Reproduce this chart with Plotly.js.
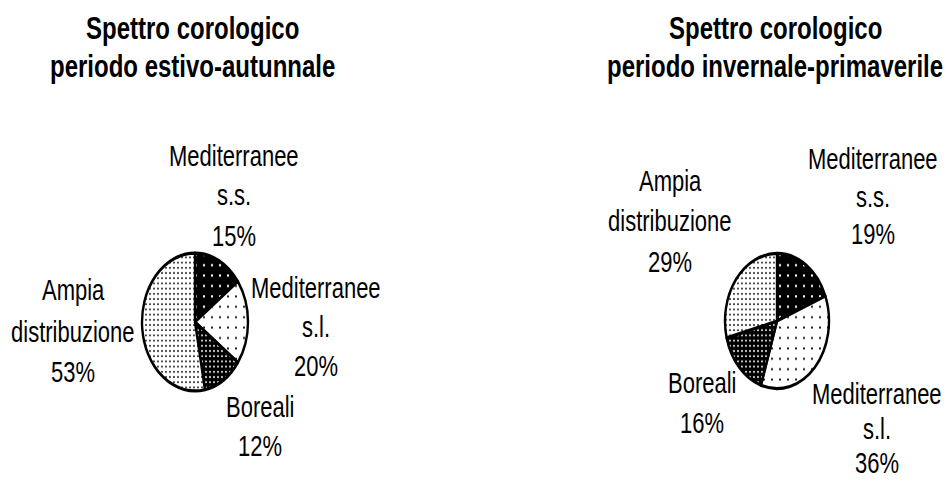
<!DOCTYPE html>
<html>
<head>
<meta charset="utf-8">
<script src="https://cdn.plot.ly/plotly-3.0.1.min.js"></script>
<style>
  html, body { margin: 0; padding: 0; background: #ffffff; width: 946px; height: 481px; }
  #wrap { position: relative; width: 946px; height: 481px; overflow: hidden; }
  #plot { position: absolute; left: 0; top: 0; width: 946px; height: 370px; transform: scaleY(1.3); transform-origin: 0 0; }
</style>
</head>
<body>
<div id="wrap"><div id="plot"></div></div>
<script>
// ---- data ----
const categories = ['Mediterranee s.s.', 'Mediterranee s.l.', 'Boreali', 'Ampia distribuzione'];
const labelLines = [['Mediterranee', 's.s.'], ['Mediterranee', 's.l.'], ['Boreali'], ['Ampia', 'distribuzione']];
const summerValues = [15, 20, 12, 53];
const winterValues = [19, 36, 16, 29];
const summerTitle = ['Spettro corologico', 'periodo estivo-autunnale'];
const winterTitle = ['Spettro corologico', 'periodo invernale-primaverile'];

// ---- layout config (positions in final picture pixels) ----
const W = 946, H = 370, S = 1.3;
const px = x => x / W;
const py = y => 1 - (y / S) / H;

const patterns = [
  {shape: '.', bgcolor: '#000000', fgcolor: '#ffffff', size: 8, solidity: 0.05},
  {shape: '.', bgcolor: '#ffffff', fgcolor: '#000000', size: 8, solidity: 0.04},
  {shape: '.', bgcolor: '#000000', fgcolor: '#ffffff', size: 4, solidity: 0.14},
  {shape: '.', bgcolor: '#ffffff', fgcolor: '#000000', size: 4, solidity: 0.12}
];

const pies = [
  {values: summerValues, cx: 195, cy: 322, r: 53, title: summerTitle, tx: 192,
   labelPos: [[234, 156], [316, 288], [260, 407], [73, 291]], spacing: [40, 39, 39, 41]},
  {values: winterValues, cx: 777, cy: 321, r: 52, title: winterTitle, tx: 775,
   labelPos: [[873, 159], [877, 395], [702, 383], [670, 181]], spacing: [38, 34.5, 40, 40.5]}
];

const traces = [];
const annotations = [];
const labelFont = {family: 'Liberation Sans, Arial, sans-serif', size: 22, color: '#000000'};
const titleFont = {family: 'Liberation Sans, Arial, sans-serif', size: 24, color: '#000000', weight: 'bold'};

pies.forEach(p => {
  const rPre = p.r;
  const cyPre = p.cy / S;
  traces.push({
    type: 'pie',
    labels: categories,
    values: p.values,
    sort: false,
    direction: 'clockwise',
    rotation: 0,
    textinfo: 'none',
    hoverinfo: 'label+percent',
    domain: {
      x: [px(p.cx - rPre), px(p.cx + rPre)],
      y: [1 - (cyPre + rPre) / H, 1 - (cyPre - rPre) / H]
    },
    marker: {
      colors: patterns.map(pt => pt.bgcolor),
      pattern: {
        shape: patterns.map(pt => pt.shape),
        bgcolor: patterns.map(pt => pt.bgcolor),
        fgcolor: patterns.map(pt => pt.fgcolor),
        size: patterns.map(pt => pt.size),
        solidity: patterns.map(pt => pt.solidity),
        fillmode: 'replace'
      },
      line: {color: '#000000', width: 2.4}
    }
  });
  p.title.forEach((t, i) => {
    annotations.push({
      text: t, x: px(p.tx), y: py(28 + i * 38), xref: 'paper', yref: 'paper',
      xanchor: 'center', yanchor: 'middle', showarrow: false, font: titleFont
    });
  });
  categories.forEach((c, k) => {
    const lines = labelLines[k].concat([p.values[k] + '%']);
    const [lx, ly] = p.labelPos[k];
    lines.forEach((ln, j) => {
      annotations.push({
        text: ln, x: px(lx), y: py(ly + j * p.spacing[k]), xref: 'paper', yref: 'paper',
        xanchor: 'center', yanchor: 'middle', showarrow: false, font: labelFont
      });
    });
  });
});

const layout = {
  width: W, height: H,
  margin: {l: 0, r: 0, t: 0, b: 0},
  paper_bgcolor: '#ffffff',
  plot_bgcolor: '#ffffff',
  showlegend: false,
  annotations: annotations
};

Plotly.newPlot('plot', traces, layout, {displayModeBar: false, staticPlot: true});
</script>
</body>
</html>
